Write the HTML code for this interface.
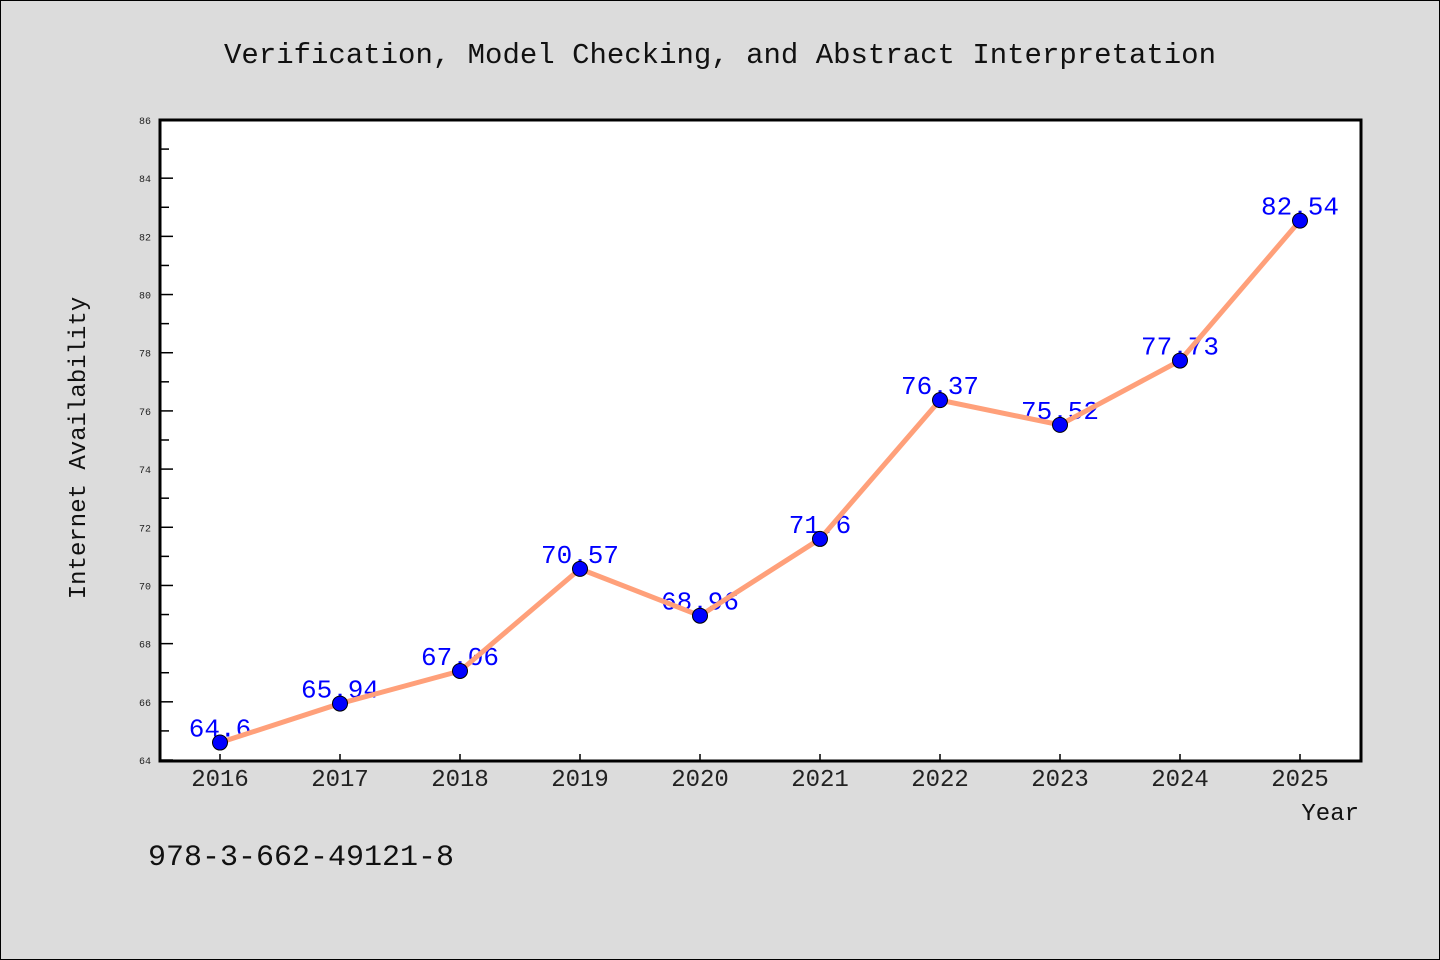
<!DOCTYPE html>
<html><head><meta charset="utf-8"><style>
body{margin:0;background:#dcdcdc;}
svg{display:block;font-family:"WenQuanYi Zen Hei Mono","WenQuanYi Zen Hei","Liberation Mono",monospace;}
</style></head><body>
<svg width="1440" height="960">
<rect x="0.5" y="0.5" width="1439" height="959" fill="#dcdcdc" stroke="#000"/>
<text x="720" y="63" text-anchor="middle" font-size="29" fill="#111">Verification, Model Checking, and Abstract Interpretation</text>
<rect x="160" y="120" width="1201" height="641" fill="#fff"/>
<g id="yticks"></g><g id="xticks"></g><g id="series"></g>
<rect x="160" y="120" width="1201" height="641" fill="none" stroke="#000" stroke-width="3"/>
<text x="85" y="448" text-anchor="middle" font-size="24" fill="#111" transform="rotate(-90 85 448)">Internet Availability</text>
<text x="1359" y="820" text-anchor="end" font-size="24" fill="#111">Year</text>
<text x="148" y="865" font-size="30" fill="#111">978-3-662-49121-8</text>
</svg>
<script>
const years=[2016,2017,2018,2019,2020,2021,2022,2023,2024,2025];
const values=[64.6,65.94,67.06,70.57,68.96,71.6,76.37,75.52,77.73,82.54];
const yTicks=[64,66,68,70,72,74,76,78,80,82,84,86];
(function(){
const NS="http://www.w3.org/2000/svg";
const yMin=64,yMax=86,plotTop=120,plotBot=760;
const y=v=>plotBot-(v-yMin)/(yMax-yMin)*(plotBot-plotTop);
const x=i=>220+i*120;
function mk(t,a,p){const e=document.createElementNS(NS,t);for(const k in a)e.setAttribute(k,a[k]);p.appendChild(e);return e;}
const yg=document.getElementById('yticks');
yTicks.forEach((v,i)=>{
 const l=mk('line',{x1:160,x2:173,y1:y(v),y2:y(v),stroke:'#000','stroke-width':1.5},yg);
 
 
 if(i<yTicks.length-1){const m=mk('line',{x1:160,x2:169,y1:y(v+1),y2:y(v+1),stroke:'#000','stroke-width':1.5},yg);
 
 }
 const t=mk('text',{x:151,y:y(v)+4,'text-anchor':'end','font-size':10,fill:'#222'},yg);
 t.textContent=v;
 
 
});
const xg=document.getElementById('xticks');
years.forEach((yr,i)=>{
 const l=mk('line',{x1:x(i),x2:x(i),y1:760,y2:754,stroke:'#000','stroke-width':1.5},xg);
 
 
 const t=mk('text',{x:x(i),y:786,'text-anchor':'middle','font-size':24,fill:'#222'},xg);
 t.textContent=yr;
 
 
});
const sg=document.getElementById('series');
values.forEach((v,i)=>{
 const t=mk('text',{x:x(i),y:y(v)-6,'text-anchor':'middle','font-size':26,fill:'#0000ff'},sg);
 t.textContent=v;
 
 
});
const pl=mk('polyline',{points:values.map((v,i)=>x(i)+','+y(v)).join(' '),fill:'none',stroke:'#ffa07a','stroke-width':5},sg);


values.forEach((v,i)=>{
 const c=mk('circle',{cx:x(i),cy:y(v),r:7.5,fill:'#0000ff',stroke:'#000','stroke-width':1},sg);
 
 
});
})();
</script>
</body></html>
